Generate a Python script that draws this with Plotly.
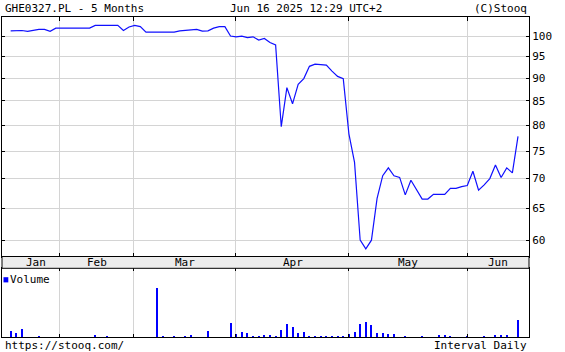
import plotly.graph_objects as go

# ---- data ----
price = [101.3, 101.3, 101.4, 101.2, 101.5, 101.7, 101.7, 101.2, 102.0, 102.0,
         102.0, 102.0, 102.0, 102.0, 102.0, 102.7, 102.7, 102.7, 102.7, 102.7,
         101.4, 102.3, 102.7, 102.4, 101.0, 101.0, 101.0, 101.0, 101.0, 101.0,
         101.3, 101.4, 101.6, 101.7, 101.25, 101.3, 102.0, 102.4, 102.4, 100.0,
         99.8, 100.0, 99.6, 99.8, 99.0, 99.4, 98.4, 97.8, 79.7, 87.9,
         84.4, 88.6, 89.9, 92.7, 93.2, 93.1, 93.0, 91.6, 90.4, 89.9,
         78.3, 72.9, 60.0, 58.7, 60.0, 66.6, 70.5, 71.9, 70.5, 70.2,
         67.2, 69.7, 68.0, 66.5, 66.5, 67.3, 67.3, 67.3, 68.3, 68.3,
         68.6, 68.8, 71.3, 68.0, 68.9, 70.0, 72.4, 70.2, 71.9, 71.0,
         77.8]

volume = [57, 33, 77, 0, 0, 7, 0, 0, 0, 0,
          0, 0, 0, 0, 0, 17, 0, 7, 0, 0,
          0, 0, 0, 0, 0, 0, 490, 7, 0, 7,
          0, 7, 20, 0, 0, 57, 0, 0, 0, 140,
          30, 47, 40, 7, 7, 17, 17, 7, 63, 130,
          97, 40, 47, 7, 7, 7, 7, 7, 7, 7,
          30, 47, 130, 147, 117, 40, 40, 30, 23, 0,
          7, 0, 0, 7, 0, 0, 17, 17, 7, 0,
          0, 7, 0, 0, 7, 0, 17, 17, 17, 0,
          167]

months = ["Jan", "Feb", "Mar", "Apr", "May", "Jun"]
month_bounds = [8.74, 21.86, 39.95, 59.98, 81.1]      # session index of month changes
month_label_pos = [4.54, 15.39, 30.9, 50.11, 70.44, 86.45]
price_ticks = [60, 65, 70, 75, 80, 85, 90, 95, 100]

title_left = "GHE0327.PL - 5 Months"
title_mid = "Jun 16 2025 12:29 UTC+2"
title_right = "(C)Stooq"
foot_left = "https://stooq.com/"
foot_right = "Interval Daily"

idx = list(range(len(price)))

FONT = "DejaVu Sans Mono"
GRID = "#d4d4d4"
BLUE = "#0000ff"

W, H = 565, 352
L, R, T, B = 2, 36, 17, 15
PH = H - T - B
main_bottom = (H - B - 256.5) / PH
vol_top = (H - B - 268.3) / PH

fig = go.Figure()
fig.add_trace(go.Scatter(x=idx, y=price, mode="lines",
                         line=dict(color="#1010ff", width=1.2),
                         xaxis="x", yaxis="y", showlegend=False, hoverinfo="skip"))
fig.add_trace(go.Bar(x=idx, y=volume, width=0.18, marker=dict(color=BLUE, line=dict(width=0)),
                     xaxis="x2", yaxis="y2", showlegend=False, hoverinfo="skip"))

xr = [-1.54, 91.95]
axis_common = dict(showline=True, linecolor="black", linewidth=1, zeroline=False)

fig.update_layout(
    width=W, height=H, autosize=False,
    margin=dict(l=L, r=R, t=T, b=B, pad=0),
    paper_bgcolor="white", plot_bgcolor="white",
    font=dict(family=FONT, size=11, color="black"),
    xaxis=dict(domain=[0, 1], range=xr, tickvals=month_bounds, showticklabels=False,
               ticks="inside", ticklen=4, tickcolor="black", mirror="allticks",
               showgrid=True, gridcolor=GRID, gridwidth=1, anchor="y", **axis_common),
    yaxis=dict(domain=[main_bottom, 1], type="log", range=[1.7604, 2.0207],
               tickvals=price_ticks, ticktext=[str(v) for v in price_ticks],
               side="right", ticks="inside", ticklen=3, tickcolor="black",
               mirror="allticks", showgrid=True, gridcolor=GRID, gridwidth=1,
               tickfont=dict(family=FONT, size=11, color="black"), anchor="x",
               **axis_common),
    xaxis2=dict(domain=[0, 1], range=xr, tickvals=month_bounds, showticklabels=False,
                ticks="inside", ticklen=3, tickcolor="black", mirror="allticks",
                showgrid=True, gridcolor=GRID, gridwidth=1, anchor="y2", **axis_common),
    yaxis2=dict(domain=[0, vol_top], range=[0, 685], showticklabels=False,
                showgrid=False, ticks="", mirror=True, anchor="x2", **axis_common),
    bargap=0,
)

shapes = [
    dict(type="rect", xref="paper", yref="paper", x0=0, x1=1, y0=vol_top, y1=main_bottom,
         fillcolor="#ececec", line=dict(color="black", width=1), layer="above"),
    dict(type="rect", xref="paper", yref="paper",
         x0=1.5 / (W - L - R), x1=6.3 / (W - L - R),
         y0=(H - B - 282.4) / PH, y1=(H - B - 277.2) / PH,
         fillcolor=BLUE, line=dict(width=0)),
]
fig.update_layout(shapes=shapes)

ann = []
band_mid = (vol_top + main_bottom) / 2
for name, pos in zip(months, month_label_pos):
    ann.append(dict(x=pos, y=band_mid, xref="x", yref="paper", text=name, showarrow=False,
                    xanchor="center", yanchor="middle", font=dict(family=FONT, size=11, color="black")))

def py(px):
    return (H - B - px) / PH

def pxx(px):
    return (px - L) / (W - L - R)

ann += [
    dict(x=pxx(3), y=py(8.5), text=title_left, xanchor="left"),
    dict(x=pxx(306), y=py(8.5), text=title_mid, xanchor="center"),
    dict(x=1, y=py(8.5), text=title_right, xanchor="right"),
    dict(x=pxx(3), y=py(345), text=foot_left, xanchor="left"),
    dict(x=1, y=py(345), text=foot_right, xanchor="right"),
    dict(x=pxx(8.3), y=py(279.8), text="Volume", xanchor="left"),
]
for a in ann[len(months):]:
    a.update(xref="paper", yref="paper", showarrow=False, yanchor="middle",
             font=dict(family=FONT, size=11, color="black"))
fig.update_layout(annotations=ann)

fig.write_html("out.html")
